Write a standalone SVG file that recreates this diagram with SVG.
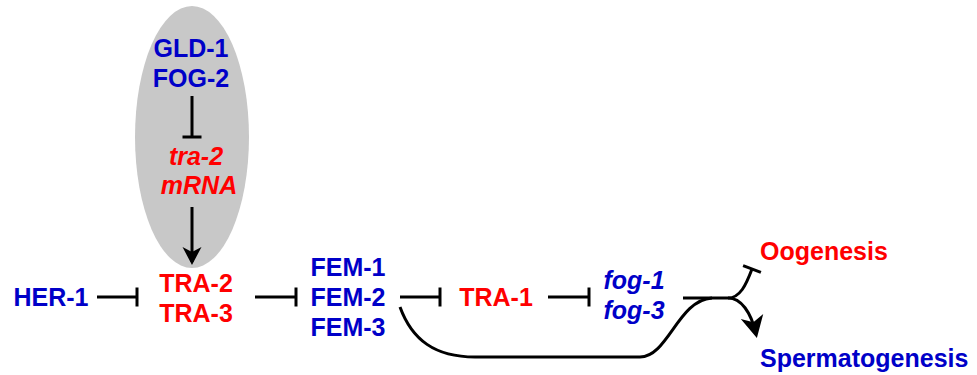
<svg xmlns="http://www.w3.org/2000/svg" width="977" height="375" viewBox="0 0 977 375">
<style>
text{font-family:"Liberation Sans",Arial,Helvetica,sans-serif;font-weight:bold;font-size:25px}
.b{fill:#0000c8}.r{fill:#ff0000}.i{font-style:italic}
.c{text-anchor:middle}
.ln{fill:none;stroke:#000;stroke-width:3}
</style>
<defs>
<marker id="tbar" viewBox="-12 -12 24 24" markerWidth="24" markerHeight="24" refX="0" refY="0" orient="auto" markerUnits="userSpaceOnUse">
<line x1="0" y1="-9.5" x2="0" y2="9.5" stroke="#000" stroke-width="3"/>
</marker>
<marker id="arr" viewBox="-20 -12 28 24" markerWidth="28" markerHeight="24" refX="0" refY="0" orient="auto" markerUnits="userSpaceOnUse">
<path d="M3,0 L-15,-9.5 L-10,0 L-15,9.5 Z" fill="#000"/>
</marker>
<marker id="arrL" viewBox="-24 -14 32 28" markerWidth="32" markerHeight="28" refX="0" refY="0" orient="auto" markerUnits="userSpaceOnUse">
<path d="M4,0 L-18,-11.5 L-12,0 L-18,11.5 Z" fill="#000"/>
</marker>
</defs>
<ellipse id="complex" cx="192" cy="137" rx="57" ry="131" fill="#c8c8c8"/>
<g id="gld1-fog2"><text class="b c" x="191" y="57">GLD-1</text><text class="b c" x="191" y="87">FOG-2</text></g>
<g id="tra2-mrna"><text class="r c i" x="196" y="165">tra-2</text><text class="r c i" x="199" y="194">mRNA</text></g>
<g id="tra2-tra3"><text class="r c" x="196" y="292">TRA-2</text><text class="r c" x="196" y="322">TRA-3</text></g>
<g id="her1"><text class="b c" x="51" y="306">HER-1</text></g>
<g id="fem"><text class="b c" x="348" y="276">FEM-1</text><text class="b c" x="348" y="306">FEM-2</text><text class="b c" x="348" y="336">FEM-3</text></g>
<g id="tra1"><text class="r c" x="496" y="306">TRA-1</text></g>
<g id="fog"><text class="b c i" x="634" y="289">fog-1</text><text class="b c i" x="634" y="319">fog-3</text></g>
<g id="oogenesis"><text class="r" x="760" y="260">Oogenesis</text></g>
<g id="spermatogenesis"><text class="b" x="760" y="367">Spermatogenesis</text></g>
<g id="connectors">
<path class="ln" d="M192 96 L192 137" marker-end="url(#tbar)"/>
<path class="ln" d="M192 207 L192 262" marker-end="url(#arr)"/>
<path class="ln" d="M97 297 L137 297" marker-end="url(#tbar)"/>
<path class="ln" d="M255 297 L296 297" marker-end="url(#tbar)"/>
<path class="ln" d="M400 297 L440 297" marker-end="url(#tbar)"/>
<path class="ln" d="M548 297 L589 297" marker-end="url(#tbar)"/>
<path class="ln" d="M683 298 L728 298"/>
<path class="ln" d="M400 307 C412 340 435 357 475 357 L640 357 C668 357 678 300 712 298"/>
<path class="ln" d="M728 298 C740 298 746 285 752 269" marker-end="url(#tbar)"/>
<path class="ln" d="M728 298 C741 298 751 312 756 334" marker-end="url(#arrL)"/>
</g>
</svg>
